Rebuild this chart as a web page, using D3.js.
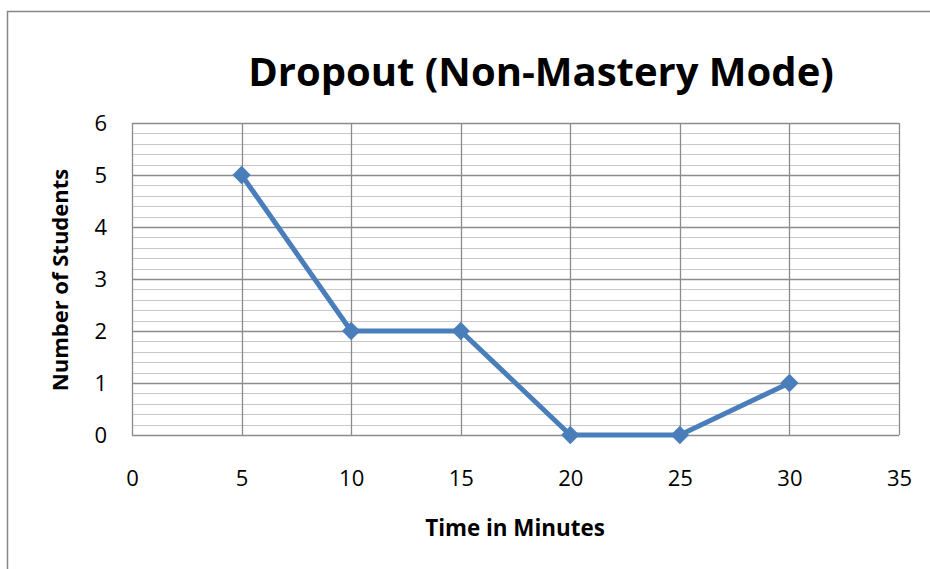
<!DOCTYPE html>
<html>
<head>
<meta charset="utf-8">
<script src="https://cdn.jsdelivr.net/npm/d3@7"></script>
<style>
  body { margin: 0; background: #fff; }
  text { font-family: "Open Sans", Lato, sans-serif; }
</style>
</head>
<body>
<svg id="chart"></svg>
<script>
// chart data
var minutes = [5, 10, 15, 20, 25, 30];
var students = [5, 2, 2, 0, 0, 1];
var xTicks = [0, 5, 10, 15, 20, 25, 30, 35];
var yTicks = [0, 1, 2, 3, 4, 5, 6];

var screen = { width: 930, height: 569 };
var plot = { left: 132, right: 899, top: 123, bottom: 435 };

var svg = d3.select("#chart")
            .attr("width", screen.width)
            .attr("height", screen.height);

// outer chart border (runs off the page right & bottom)
svg.append("rect")
   .attr("x", 7.5).attr("y", 11.5)
   .attr("width", 1000).attr("height", 700)
   .attr("fill", "white")
   .style("stroke", "#868686")
   .style("stroke-width", 1.5);

var xScale = d3.scaleLinear().domain([0, 35]).range([plot.left, plot.right]);
var yScale = d3.scaleLinear().domain([0, 6]).range([plot.bottom, plot.top]);

// minor horizontal grid
var minor = d3.range(0, 6.01, 0.2).filter(function(v){ return Math.abs(v - Math.round(v)) > 0.01; });
svg.append("g").selectAll("line")
   .data(minor).enter().append("line")
   .attr("x1", plot.left).attr("x2", plot.right)
   .attr("y1", function(d){ return Math.round(yScale(d)) + 0.5; })
   .attr("y2", function(d){ return Math.round(yScale(d)) + 0.5; })
   .style("stroke", "#c8c8c8").style("stroke-width", 1.2);

// major grid
svg.append("g").selectAll("line")
   .data(yTicks).enter().append("line")
   .attr("x1", plot.left).attr("x2", plot.right)
   .attr("y1", function(d){ return Math.round(yScale(d)) + 0.5; })
   .attr("y2", function(d){ return Math.round(yScale(d)) + 0.5; })
   .style("stroke", "#8c8c8c").style("stroke-width", 1.3);

svg.append("g").selectAll("line")
   .data(xTicks).enter().append("line")
   .attr("y1", plot.top).attr("y2", plot.bottom)
   .attr("x1", function(d){ return Math.round(xScale(d)) + 0.5; })
   .attr("x2", function(d){ return Math.round(xScale(d)) + 0.5; })
   .style("stroke", "#8c8c8c").style("stroke-width", 1.3);

// axes via d3 (labels only)
var xAxis = d3.axisBottom(xScale).tickValues(xTicks).tickSize(0).tickPadding(35).tickFormat(d3.format("d"));
var yAxis = d3.axisLeft(yScale).tickValues(yTicks).tickSize(0).tickPadding(25).tickFormat(d3.format("d"));

var gx = svg.append("g").attr("transform", "translate(0," + plot.bottom + ")").call(xAxis);
var gy = svg.append("g").attr("transform", "translate(" + plot.left + ",0)").call(yAxis);
[gx, gy].forEach(function(g){
  g.select(".domain").remove();
  g.selectAll("text").attr("font-size", 22).attr("fill", "#000")
   .style("font-family", "'Open Sans', Lato, sans-serif");
});

// line
var line = d3.line()
  .x(function(d, i){ return xScale(minutes[i]); })
  .y(function(d){ return yScale(d); });

svg.append("path")
   .datum(students)
   .attr("d", line)
   .attr("fill", "none")
   .style("stroke", "#4a7ebb")
   .style("stroke-width", 5)
   .style("stroke-linejoin", "round");

svg.append("g").selectAll("path")
   .data(students).enter().append("path")
   .attr("d", d3.symbol().type(d3.symbolDiamond2).size(215))
   .attr("transform", function(d, i){ return "translate(" + xScale(minutes[i]) + "," + yScale(d) + ")"; })
   .attr("fill", "#4a7ebb");

// titles
svg.append("text")
   .attr("x", 541).attr("y", 86)
   .attr("text-anchor", "middle")
   .attr("font-size", 40).attr("font-weight", "bold")
   .text("Dropout (Non-Mastery Mode)");

svg.append("text")
   .attr("x", 515).attr("y", 536)
   .attr("text-anchor", "middle")
   .attr("font-size", 22.4).attr("font-weight", "bold")
   .text("Time in Minutes");

svg.append("text")
   .attr("transform", "translate(68,280) rotate(-90)")
   .attr("text-anchor", "middle")
   .attr("font-size", 22).attr("font-weight", "bold")
   .text("Number of Students");
</script>
</body>
</html>
